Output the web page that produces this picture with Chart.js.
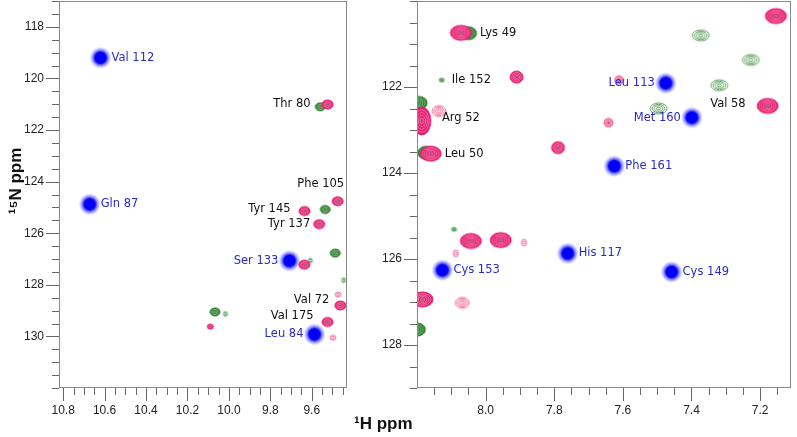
<!DOCTYPE html>
<html>
<head>
<meta charset="utf-8">
<script src="https://cdn.jsdelivr.net/npm/chart.js@4.4.1/dist/chart.umd.min.js"></script>
<style>
  body { margin: 0; background: #fff; width: 797px; height: 437px; position: relative; overflow: hidden; }
  #left { position: absolute; left: 0; top: 0; }
  #right { position: absolute; left: 370px; top: 0; }
  .axisTitle { position: absolute; font: bold 17px "Liberation Sans Narrow", "Liberation Sans", sans-serif; color: #111; }
  #hTitle { left: 354px; top: 414px; }
  #nTitle { left: -29px; top: 171px; width: 90px; height: 20px; line-height: 20px; text-align: center; transform: rotate(-90deg); }
</style>
</head>
<body>
<canvas id="left" width="352" height="437"></canvas>
<canvas id="right" width="427" height="437"></canvas>
<div id="hTitle" class="axisTitle">¹H ppm</div>
<div id="nTitle" class="axisTitle">¹⁵N ppm</div>
<script>
// --- data: x = 1H ppm, y = 15N ppm ---

// left panel (downfield region)
const leftBlue = [{x: 10.62, y: 119.2}, {x: 10.672, y: 124.88}, {x: 9.708, y: 127.07}, {x: 9.587, y: 129.92}];
const leftBlueNames = ['Val 112', 'Gln 87', 'Ser 133', 'Leu 84'];
const leftPink = [{x: 9.524, y: 121.01}, {x: 9.475, y: 124.76}, {x: 9.635, y: 125.14}, {x: 9.564, y: 125.65},
                  {x: 9.636, y: 127.22}, {x: 9.462, y: 128.8}, {x: 9.524, y: 129.44}];
const leftPinkSmall = [{x: 10.09, y: 129.62}];
const leftPinkOpen = [{x: 9.498, y: 130.05}, {x: 9.473, y: 128.38}];
const leftGreen = [{x: 9.559, y: 121.1}, {x: 9.535, y: 125.08}, {x: 9.487, y: 126.77}, {x: 10.067, y: 129.05}];
const leftGreenSmall = [{x: 10.017, y: 129.13}, {x: 9.607, y: 127.06}, {x: 9.446, y: 127.82}];
const leftNames = ['Thr 80', 'Phe 105', 'Tyr 145', 'Tyr 137', 'Val 72', 'Val 175'];
const leftNamePeaks = [{x: 9.524, y: 121.01}, {x: 9.475, y: 124.76}, {x: 9.635, y: 125.14},
                       {x: 9.564, y: 125.65}, {x: 9.462, y: 128.8}, {x: 9.524, y: 129.44}];

// right panel
const rightBlue = [{x: 7.475, y: 121.91}, {x: 7.399, y: 122.71}, {x: 7.625, y: 123.84},
                   {x: 7.761, y: 125.87}, {x: 8.126, y: 126.26}, {x: 7.458, y: 126.3}];
const rightBlueNames = ['Leu 113', 'Met 160', 'Phe 161', 'His 117', 'Cys 153', 'Cys 149'];
const rightPinkBig = [{x: 8.072, y: 120.74}, {x: 7.154, y: 120.35}, {x: 7.178, y: 122.44}, {x: 8.16, y: 123.55},
                      {x: 8.043, y: 125.58}, {x: 7.956, y: 125.56}, {x: 8.184, y: 126.94}];
const rightPinkTall = [{x: 8.186, y: 122.79}];
const rightPink = [{x: 7.91, y: 121.77}, {x: 7.789, y: 123.41}];
const rightPinkSmall = [{x: 7.642, y: 122.83}, {x: 7.611, y: 121.84}];
const rightPinkOpen = [{x: 8.136, y: 122.56}, {x: 8.068, y: 127.02}];
const rightPinkOpenSmall = [{x: 7.888, y: 125.62}, {x: 8.087, y: 125.87}];
const rightGreen = [{x: 8.05, y: 120.75}, {x: 8.194, y: 122.37}, {x: 8.174, y: 123.53}, {x: 8.199, y: 127.64}];
const rightGreenOpen = [{x: 7.373, y: 120.8}, {x: 7.227, y: 121.37}, {x: 7.319, y: 121.96}, {x: 7.496, y: 122.5}];
const rightGreenSmall = [{x: 8.128, y: 121.84}, {x: 8.092, y: 125.31}];
const rightNames = ['Lys 49', 'Ile 152', 'Arg 52', 'Leu 50', 'Val 58'];
const rightNamePeaks = [{x: 8.072, y: 120.74}, {x: 8.128, y: 121.84}, {x: 8.136, y: 122.56},
                        {x: 8.16, y: 123.55}, {x: 7.178, y: 122.44}];

// tick labels
const leftXTicks = ['10.8', '10.6', '10.4', '10.2', '10.0', '9.8', '9.6'];
const rightXTicks = ['8.0', '7.8', '7.6', '7.4', '7.2'];
const leftYTicks = ['118', '120', '122', '124', '126', '128', '130'];
const rightYTicks = ['122', '124', '126', '128'];

// --- layout / style ---
const leftBlueSide = ['right', 'right', 'left', 'left'];
const rightBlueSide = ['left', 'left', 'right', 'right', 'right', 'right'];
const leftNameOffsets = [[-17, 0, 'right'], [-17, -17, 'center'], [-14, -2, 'right'], [-9, 0, 'right'], [-11, -5, 'right'], [-14, -6, 'right']];
const rightNameOffsets = [[19, 0, 'left'], [10, 0, 'left'], [3, 7, 'left'], [14, 0, 'left'], [-22, -2, 'right']];

const PINK = 'rgb(232,28,112)';
const PINK_LIGHT = 'rgb(242,110,160)';
const GREEN = 'rgb(38,128,42)';
const GREEN_LIGHT = 'rgb(100,165,100)';
const BLUE_TEXT = '#2a2ac6';
const TICK_FONT = {family: '"Liberation Sans Narrow", "Liberation Sans", sans-serif', size: 12};

function contour(w, h, color, rings, solid) {
  const c = document.createElement('canvas');
  c.width = w + 4; c.height = h + 4;
  const g = c.getContext('2d');
  const cx = c.width / 2, cy = c.height / 2;
  if (solid) {
    g.fillStyle = color;
    g.beginPath(); g.ellipse(cx, cy, w / 2, h / 2, 0, 0, Math.PI * 2); g.fill();
  }
  g.lineWidth = 1;
  for (let i = 0; i < rings; i++) {
    const f = 1 - i / rings;
    g.strokeStyle = solid ? (i === 0 ? color : 'rgba(255,255,255,0.35)') : color;
    g.beginPath();
    g.ellipse(cx, cy, Math.max(0.8, w / 2 * f), Math.max(0.8, h / 2 * f), 0, 0, Math.PI * 2);
    g.stroke();
  }
  if (solid && w > 8) {
    g.fillStyle = 'rgba(120,120,110,0.7)';
    g.beginPath(); g.arc(cx, cy, 1.5, 0, Math.PI * 2); g.fill();
  }
  return c;
}

function blueSpot() {
  const c = document.createElement('canvas');
  c.width = 26; c.height = 26;
  const g = c.getContext('2d');
  const grad = g.createRadialGradient(13, 13, 0, 13, 13, 11);
  grad.addColorStop(0, 'rgba(0,0,245,1)');
  grad.addColorStop(0.5, 'rgba(0,0,245,1)');
  grad.addColorStop(0.7, 'rgba(60,60,250,0.6)');
  grad.addColorStop(1, 'rgba(120,120,255,0)');
  g.fillStyle = grad;
  g.fillRect(0, 0, 26, 26);
  return c;
}

function set(data, style) {
  return {data, pointStyle: style, pointRadius: 6, clip: 0};
}

// label only the ticks that sit exactly on a listed value
function tickCb(list) {
  return v => list.find(s => Math.abs(parseFloat(s) - v) < 1e-6) || '';
}

const peakText = {
  id: 'peakText',
  afterDatasetsDraw(chart, args, opts) {
    const {ctx, scales: {x, y}} = chart;
    ctx.save();
    ctx.font = '11.5px "DejaVu Sans", sans-serif';
    ctx.textBaseline = 'middle';
    opts.items.forEach(it => {
      ctx.fillStyle = it.color;
      ctx.textAlign = it.align;
      ctx.fillText(it.text, x.getPixelForValue(it.x) + it.dx, y.getPixelForValue(it.y) + it.dy);
    });
    ctx.restore();
  }
};

const frame = {
  id: 'frame',
  afterDraw(chart) {
    const {ctx, chartArea: a, scales: {x, y}} = chart;
    ctx.save();
    ctx.strokeStyle = '#8a8a8a';
    ctx.lineWidth = 1;
    ctx.strokeRect(Math.round(a.left) + 0.5, Math.round(a.top) + 0.5, Math.round(a.right - a.left) - 1, Math.round(a.bottom - a.top) - 1);
    ctx.strokeStyle = '#666';
    ctx.beginPath();
    x.ticks.forEach(t => {
      const p = Math.round(x.getPixelForValue(t.value)) + 0.5;
      ctx.moveTo(p, a.bottom); ctx.lineTo(p, a.bottom + (t.label ? 13 : 7));
    });
    y.ticks.forEach(t => {
      const p = Math.round(y.getPixelForValue(t.value)) + 0.5;
      ctx.moveTo(a.left, p); ctx.lineTo(a.left - (t.label ? 13 : 7), p);
    });
    ctx.stroke();
    ctx.restore();
  }
};

function blueItems(pts, names, sides) {
  return pts.map((p, i) => ({text: names[i], x: p.x, y: p.y, dx: sides[i] === 'right' ? 11 : -11, dy: 0,
    align: sides[i] === 'right' ? 'left' : 'right', color: BLUE_TEXT}));
}
function blackItems(pts, names, offs) {
  return pts.map((p, i) => ({text: names[i], x: p.x, y: p.y, dx: offs[i][0], dy: offs[i][1], align: offs[i][2], color: '#111'}));
}

function noPad(s) {
  s.paddingTop = 0; s.paddingBottom = 0; s.paddingLeft = 0; s.paddingRight = 0;
}

function makeChart(id, cfg) {
  return new Chart(document.getElementById(id), {
    type: 'scatter',
    data: {datasets: cfg.datasets},
    options: {
      responsive: false, animation: false, events: [], devicePixelRatio: 1,
      layout: {autoPadding: false, padding: {top: 1, right: cfg.padRight, left: 0, bottom: 0}},
      plugins: {legend: {display: false}, tooltip: {enabled: false}, peakText: {items: cfg.items}},
      scales: {
        x: {
          type: 'linear', reverse: true, min: cfg.xMin, max: cfg.xMax,
          afterFit: s => { s.height = 49; noPad(s); },
          border: {display: false},
          grid: {drawOnChartArea: false, tickLength: 13, tickColor: 'rgba(0,0,0,0)'},
          ticks: {stepSize: 0.05, includeBounds: false, autoSkip: false, maxRotation: 0, padding: 2,
                  color: '#222', font: TICK_FONT, callback: tickCb(cfg.xTicks)}
        },
        y: {
          type: 'linear', reverse: true, min: cfg.yMin, max: cfg.yMax,
          afterFit: s => { s.width = cfg.yWidth; noPad(s); },
          border: {display: false},
          grid: {drawOnChartArea: false, tickLength: 13, tickColor: 'rgba(0,0,0,0)'},
          ticks: {stepSize: 0.5, includeBounds: false, autoSkip: false, padding: 2,
                  color: '#222', font: TICK_FONT, callback: tickCb(cfg.yTicks)}
        }
      }
    },
    plugins: [peakText, frame]
  });
}

const spot = blueSpot();

makeChart('left', {
  xMin: 9.43, xMax: 10.82, yMin: 117, yMax: 132, yWidth: 59, padRight: 5,
  xTicks: leftXTicks, yTicks: leftYTicks,
  datasets: [
    set(leftBlue, spot),
    set(leftPink, contour(11, 9, PINK, 3, true)),
    set(leftPinkSmall, contour(6, 5, PINK, 2, true)),
    set(leftPinkOpen, contour(6, 5, PINK_LIGHT, 2, false)),
    set(leftGreen, contour(10, 8, GREEN, 3, true)),
    set(leftGreenSmall, contour(4, 5, GREEN_LIGHT, 2, false))
  ],
  items: blueItems(leftBlue, leftBlueNames, leftBlueSide).concat(blackItems(leftNamePeaks, leftNames, leftNameOffsets))
});

makeChart('right', {
  xMin: 7.11, xMax: 8.2, yMin: 120, yMax: 129, yWidth: 47, padRight: 6,
  xTicks: rightXTicks, yTicks: rightYTicks,
  datasets: [
    set(rightBlue, spot),
    set(rightPinkBig, contour(21, 15, PINK, 5, true)),
    set(rightPinkTall, contour(18, 28, PINK, 5, true)),
    set(rightPink, contour(13, 12, PINK, 4, true)),
    set(rightPinkSmall, contour(9, 9, PINK_LIGHT, 3, true)),
    set(rightPinkOpen, contour(14, 11, PINK_LIGHT, 4, false)),
    set(rightPinkOpenSmall, contour(5, 7, PINK_LIGHT, 2, false)),
    set(rightGreen, contour(16, 13, GREEN, 4, true)),
    set(rightGreenOpen, contour(17, 11, GREEN_LIGHT, 4, false)),
    set(rightGreenSmall, contour(5, 4, GREEN_LIGHT, 1, true))
  ],
  items: blueItems(rightBlue, rightBlueNames, rightBlueSide).concat(blackItems(rightNamePeaks, rightNames, rightNameOffsets))
});
</script>
</body>
</html>
